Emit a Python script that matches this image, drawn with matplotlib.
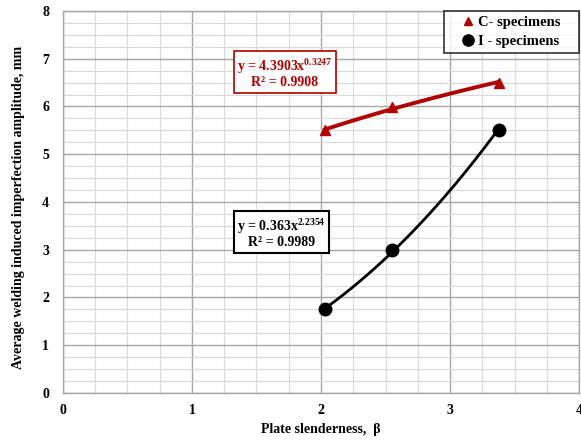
import numpy as np
import matplotlib
matplotlib.use("Agg")
import matplotlib.pyplot as plt
from matplotlib.ticker import MultipleLocator

# Data
c_x = [2.03, 2.55, 3.38]
c_y = [5.50, 5.98, 6.50]
i_x = [2.03, 2.55, 3.38]
i_y = [1.75, 3.00, 5.50]
c_label = "C- specimens"
i_label = "I - specimens"
c_eq = "y = 4.3903x$^{0.3247}$\nR² = 0.9908"
i_eq = "y = 0.363x$^{2.2354}$\nR² = 0.9989"
x_ticks = [0, 1, 2, 3, 4]
y_ticks = [0, 1, 2, 3, 4, 5, 6, 7, 8]

plt.rcParams['font.family'] = ['Liberation Serif', 'DejaVu Serif']
plt.rcParams['mathtext.fontset'] = 'custom'
plt.rcParams['mathtext.rm'] = 'Liberation Serif:bold'
plt.rcParams['mathtext.it'] = 'Liberation Serif:bold'
plt.rcParams['mathtext.bf'] = 'Liberation Serif:bold'

red = '#B00000'

fig = plt.figure(figsize=(5.81, 4.43), dpi=100)
ax = fig.add_axes([0.1084, 0.1129, 0.8882, 0.8623])
ax.set_xlim(0, 4)
ax.set_ylim(0, 8)
ax.set_xticks(x_ticks)
ax.set_yticks(y_ticks)
ax.xaxis.set_minor_locator(MultipleLocator(0.25))
ax.yaxis.set_minor_locator(MultipleLocator(0.25))
ax.grid(which='major', color='#a6a6a6', lw=1.0, zorder=0)
ax.grid(which='minor', color='#d9d9d9', lw=0.8, zorder=0)
ax.set_axisbelow(True)
ax.tick_params(which='both', length=0)
ax.tick_params(axis='x', pad=8)
ax.tick_params(axis='y', pad=10)
for lbl in ax.get_xticklabels() + ax.get_yticklabels():
    lbl.set_fontweight('bold')
    lbl.set_fontsize(10)
for s in ax.spines.values():
    s.set_color('#a6a6a6')
    s.set_linewidth(1.0)

def power_fit(x, y):
    b, lna = np.polyfit(np.log(x), np.log(y), 1)
    xs = np.linspace(min(x), max(x), 100)
    return xs, np.exp(lna) * xs ** b

xs, ys = power_fit(c_x, c_y)
ax.plot(xs, ys, color=red, lw=2.8, zorder=3)
xs, ys = power_fit(i_x, i_y)
ax.plot(xs, ys, color='black', lw=2.0, zorder=3)

ax.plot(c_x, c_y, '^', color=red, ms=7, ls='none', label=c_label, zorder=4)
ax.plot(i_x, i_y, 'o', color='black', ms=9, ls='none', label=i_label, zorder=4)

leg = ax.legend(loc='upper right', bbox_to_anchor=(0.738, 0.0, 0.262, 1.0), mode='expand',
                frameon=True, fancybox=False,
                edgecolor='black', prop={'weight': 'bold', 'size': 10.5}, handletextpad=-0.6,
                handlelength=2.6, borderpad=0.35, labelspacing=0.35, borderaxespad=0.0,
                markerscale=0.9)
leg.get_frame().set_linewidth(1.2)

ax.text(1.35, 6.7, c_eq, color=red, fontsize=10, fontweight='bold', ha='left', va='center',
        multialignment='center', linespacing=1.05,
        bbox=dict(boxstyle='square,pad=0.25', fc='white', ec=red, lw=1.2), zorder=5)
ax.text(1.35, 3.35, i_eq, color='black', fontsize=10, fontweight='bold', ha='left', va='center',
        multialignment='center', linespacing=1.05,
        bbox=dict(boxstyle='square,pad=0.25', fc='white', ec='black', lw=1.5), zorder=5)

ax.set_xlabel('Plate slenderness,  β', fontsize=10, fontweight='bold', labelpad=4)
ax.set_ylabel('Average welding induced imperfection amplitude, mm', fontsize=10,
              fontweight='bold')
ax.yaxis.set_label_coords(-0.074, 0.487)

fig.savefig('out.png', dpi=100)
